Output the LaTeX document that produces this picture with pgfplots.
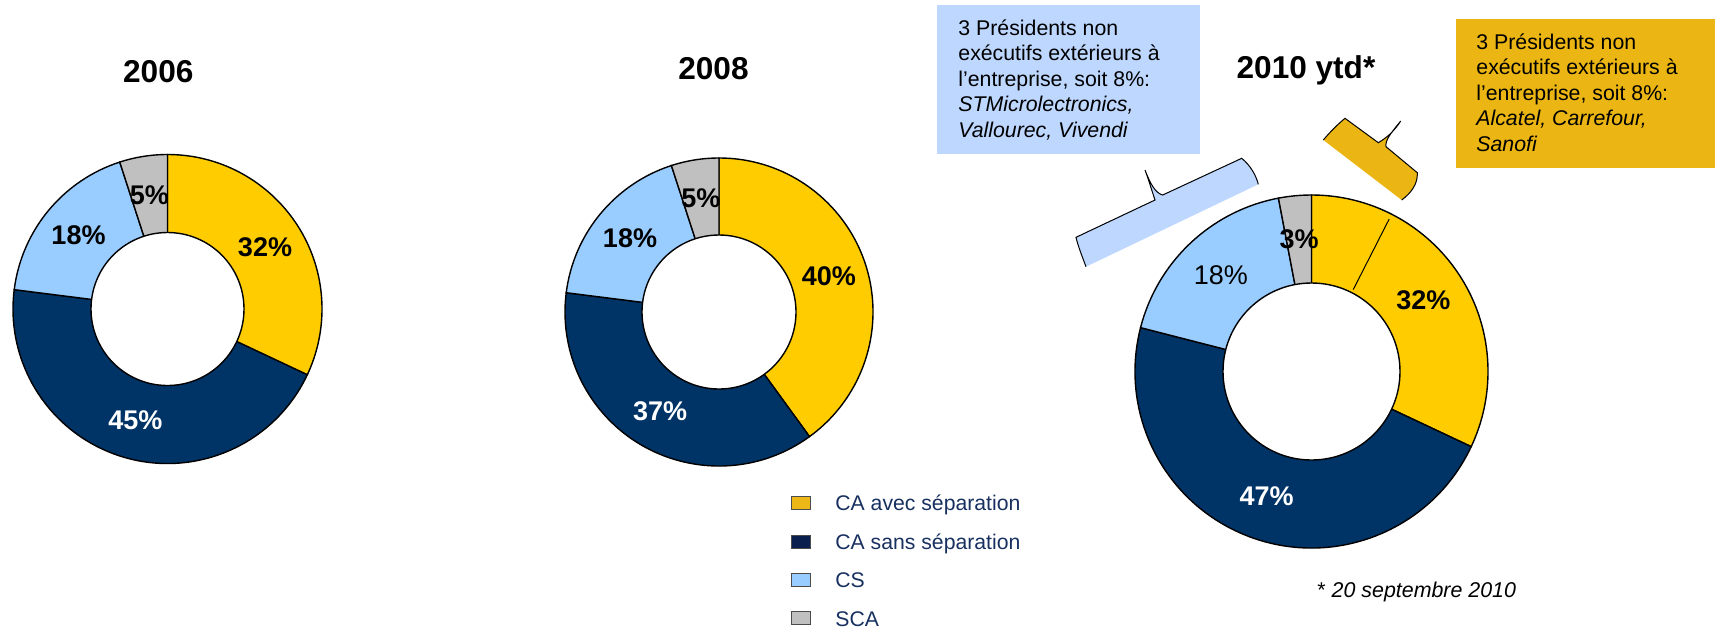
\documentclass[border=0pt]{standalone}
\usepackage{fontspec}
\setmainfont{Liberation Sans}
\usepackage{pgfplots}
\usepackage{pgfplotstable}
\pgfplotsset{compat=1.18}

\definecolor{cayel}{HTML}{FFCC00}
\definecolor{canavy}{HTML}{003366}
\definecolor{cslb}{HTML}{99CCFF}
\definecolor{scagr}{HTML}{C0C0C0}
\definecolor{boxblue}{HTML}{BDD7FF}
\definecolor{boxyel}{HTML}{EBB614}
\definecolor{legyel}{HTML}{EBB818}
\definecolor{legnavy}{HTML}{0B1F4E}
\definecolor{legtext}{HTML}{17305F}
\colorlet{sec0}{cayel}
\colorlet{sec1}{canavy}
\colorlet{sec2}{cslb}
\colorlet{sec3}{scagr}
\colorlet{lab0}{black}
\colorlet{lab1}{white}
\colorlet{lab2}{black}
\colorlet{lab3}{black}

% share of each board type, in %
\pgfplotstableread{
cat    y2006 y2008 y2010
CAavec 32    40    32
CAsans 45    37    47
CS     18    18    18
SCA    5     5     3
}\donutdata

% #1 column, #2 outer radius (px), #3 inner radius (px), #4 row with a regular-weight label
\newcommand{\donut}[4]{%
  \pgfplotsextra{%
    \xdef\cum{0}%
    \foreach \i in {0,...,3}{%
      \pgfplotstablegetelem{\i}{#1}\of\donutdata
      \let\val\pgfplotsretval
      \pgfmathsetmacro{\sa}{90-3.6*\cum}%
      \pgfmathsetmacro{\sb}{90-3.6*(\cum+\val)}%
      \fill[sec\i, draw=black, line width=0.7pt] (axis cs:0,0) -- ++(\sa:#2*0.5pt)
        arc[start angle=\sa, end angle=\sb, radius=#2*0.5pt] -- cycle;
      \pgfmathsetmacro{\nc}{\cum+\val}%
      \xdef\cum{\nc}%
    }%
    \fill[white, draw=black, line width=0.7pt] (axis cs:0,0) circle[radius=#3*0.5pt];
    \xdef\cum{0}%
    \foreach \i in {0,...,3}{%
      \pgfplotstablegetelem{\i}{#1}\of\donutdata
      \let\val\pgfplotsretval
      \pgfmathsetmacro{\sm}{90-3.6*(\cum+\val/2)}%
      \ifnum\i=#4\relax\def\lf{\fontsize{13.5}{15}\selectfont}%
      \else\def\lf{\fontsize{13.5}{15}\selectfont\bfseries}\fi
      \path (axis cs:0,0) ++(\sm:#2*0.25pt+#3*0.25pt)
        node[text=lab\i, font=\lf, inner sep=0pt] {\val\%};
      \pgfmathsetmacro{\nc}{\cum+\val}%
      \xdef\cum{\nc}%
    }%
  }%
}

\pgfplotsset{donutaxis/.style={anchor=center, x=0.5pt, y=0.5pt,
  xmin=-180, xmax=180, ymin=-180, ymax=180, hide axis, clip=false}}

\begin{document}
\begin{tikzpicture}
\begin{axis}[donutaxis, at={(83.75pt,-154.5pt)}]
  \donut{y2006}{154.5}{76.5}{-1}
\end{axis}
\begin{axis}[donutaxis, at={(359.5pt,-156pt)}]
  \donut{y2008}{154}{77}{-1}
\end{axis}
\begin{axis}[donutaxis, at={(655.75pt,-185.75pt)}]
  \donut{y2010}{176.5}{88.5}{2}
  % limit of the 8% of outside presidents inside "CA avec separation"
  \pgfplotsextra{\draw[line width=0.5pt] (axis cs:0,0) ++(63:46pt) -- ++(63:39.5pt);}
\end{axis}

\begin{scope}[x=0.5pt, y=-0.5pt]
  % titles
  \node[font=\fontsize{15.8}{18}\selectfont\bfseries] at (158.3,71.3) {2006};
  \node[font=\fontsize{15.8}{18}\selectfont\bfseries] at (713.5,68.5) {2008};
  \node[font=\fontsize{15.8}{18}\selectfont\bfseries] at (1306,70) {2010 ytd*};

  % blue call-out
  \fill[boxblue] (937,5) rectangle (1200,154);
  \begin{scope}[every node/.style={anchor=base west, inner sep=0pt, font=\fontsize{10.65}{12}\selectfont}]
    \node at (958,35) {3 Présidents non};
    \node at (958,60.5) {exécutifs extérieurs à};
    \node at (958,86) {l’entreprise, soit 8\%:};
    \node at (958,111.5) {\itshape STMicrolectronics,};
    \node at (958,137) {\itshape Vallourec, Vivendi};
  \end{scope}
  \fill[boxblue] (1076,237.3) -- (1155,200) .. controls (1151,188) and (1148,178) .. (1145,170)
    .. controls (1150,183) and (1155,193) .. (1162.7,195) -- (1241.7,158.3)
    .. controls (1250,165) and (1256,175) .. (1258.3,184.3) -- (1086,266.7)
    .. controls (1082,256) and (1078,246) .. (1076,237.3) -- cycle;
  \draw[line width=0.5pt] (1086,266.7) .. controls (1082,256) and (1078,246) .. (1076,237.3)
    -- (1155,200) .. controls (1151,188) and (1148,178) .. (1145,170)
    .. controls (1150,183) and (1155,193) .. (1162.7,195) -- (1241.7,158.3)
    .. controls (1250,165) and (1256,175) .. (1258.3,184.3);

  % yellow call-out
  \fill[boxyel] (1456,19) rectangle (1715,168);
  \begin{scope}[every node/.style={anchor=base west, inner sep=0pt, font=\fontsize{10.65}{12}\selectfont}]
    \node at (1476,49.3) {3 Présidents non};
    \node at (1476,74.8) {exécutifs extérieurs à};
    \node at (1476,100.3) {l’entreprise, soit 8\%:};
    \node at (1476,125.8) {\itshape Alcatel, Carrefour,};
    \node at (1476,151.3) {\itshape Sanofi};
  \end{scope}
  \fill[boxyel] (1323.3,140) .. controls (1330,132) and (1338,124) .. (1345,118.3) -- (1378.3,142.7)
    .. controls (1388,137) and (1395,130) .. (1400.7,121)
    .. controls (1391,133) and (1385,140) .. (1386,146.7) -- (1417.3,172.7)
    .. controls (1418,184) and (1411,193) .. (1401.7,200) -- cycle;
  \draw[line width=0.5pt] (1323.3,140) .. controls (1330,132) and (1338,124) .. (1345,118.3) -- (1378.3,142.7)
    .. controls (1388,137) and (1395,130) .. (1400.7,121)
    .. controls (1391,133) and (1385,140) .. (1386,146.7) -- (1417.3,172.7)
    .. controls (1418,184) and (1411,193) .. (1401.7,200);

  % legend
  \begin{scope}[every node/.style={anchor=base west, inner sep=0pt, text=legtext, font=\fontsize{10.6}{12}\selectfont}]
    \filldraw[fill=legyel, draw=black!70, line width=0.4pt] (791,496.5) rectangle (810,509.5);
    \node at (835,510.7) {CA avec séparation};
    \filldraw[fill=legnavy, draw=black!70, line width=0.4pt] (791,535) rectangle (810,548);
    \node at (835,549.2) {CA sans séparation};
    \filldraw[fill=cslb, draw=black!70, line width=0.4pt] (791,573.5) rectangle (810,586.5);
    \node at (835,587.7) {CS};
    \filldraw[fill=scagr, draw=black!70, line width=0.4pt] (791,611) rectangle (810,624);
    \node at (835,626.2) {SCA};
  \end{scope}

  % footnote
  \node[anchor=base west, inner sep=0pt, font=\fontsize{10.7}{12}\selectfont] at (1317,597.3)
    {*~\textit{20 septembre 2010}};
\end{scope}

\pgfresetboundingbox
\path[use as bounding box] (0,0) rectangle (857.5pt,-314pt);
\end{tikzpicture}
\end{document}
